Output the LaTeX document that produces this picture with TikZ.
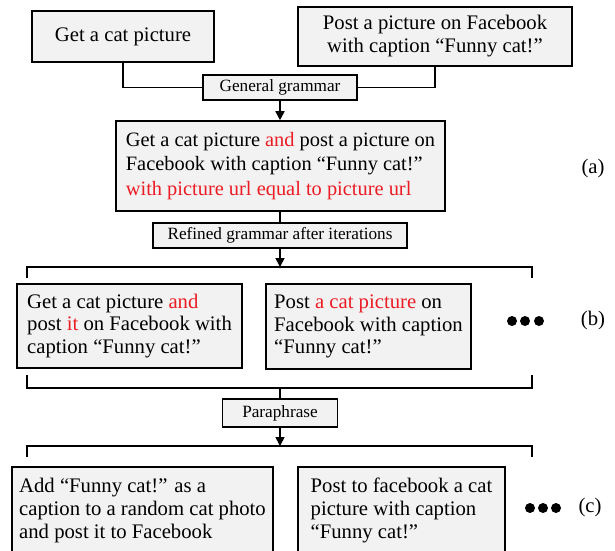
\documentclass[tikz,border=0pt]{standalone}
\usepackage{fontspec}
\setmainfont{Liberation Serif}
\usepackage{xcolor}
\usetikzlibrary{arrows.meta}
\usetikzlibrary{positioning}
\definecolor{boxgray}{RGB}{242,242,242}
\definecolor{hlred}{RGB}{235,28,36}
\newcommand{\hl}[1]{\textcolor{hlred}{#1}}

\begin{document}
\begin{tikzpicture}[x=1pt,y=-1pt,
    sentence/.style={draw, fill=boxgray, line width=1.6pt, align=left, inner sep=0pt,
        font=\fontsize{20.7}{23}\selectfont},
    rulebox/.style={draw, fill=boxgray, line width=1.6pt, inner sep=0pt,
        font=\fontsize{17.2}{20}\selectfont},
    link/.style={line width=1.6pt},
    flow/.style={line width=1.6pt, -{Triangle[length=9pt,width=9pt]}},
    tag/.style={font=\fontsize{20.7}{24}\selectfont}]
    \useasboundingbox (0,0) rectangle (615,550);
    \def\bl{27}  % bracket left
    \def\br{532} % bracket right
    \def\mx{280} % middle axis
    % input sentences
    \node[sentence, minimum width=182pt, minimum height=51pt] (get) at (123,36.5) {Get a cat picture};
    \node[sentence, align=center, minimum width=274pt, minimum height=59pt] (post) at (435,36.5)
        {Post a picture on Facebook\\with caption “Funny cat!”};
    \node[rulebox, minimum width=154pt, minimum height=25pt] (gg) at (\mx,87.5) {General grammar};
    \draw[link] (get.south) -- (get.south |- gg.west) -- (gg.west);
    \draw[link] (post.south) -- (post.south |- gg.east) -- (gg.east);
    % (a)
    \node[sentence, minimum width=329pt, minimum height=90pt, font=\fontsize{20.4}{24.5}\selectfont] (comb) at (280.5,166)
        {Get a cat picture \hl{and} post a picture on\\Facebook with caption “Funny cat!”\\\hl{with picture url equal to picture url}};
    \draw[flow] (gg.south) -- (gg.south |- comb.north);
    \node[tag] (lblA) at (593,169) {(a)};
    \node[rulebox, minimum width=254pt, minimum height=25pt] (ref) at (\mx,235.5) {Refined grammar after iterations};
    \draw[link] (ref.north |- comb.south) -- (ref.north);
    % (b)
    \coordinate (topB) at (\mx,267);
    \coordinate (botB) at (\mx,388);
    \draw[link] (\bl,278) -- (\bl,267) -- (\br,267) -- (\br,278);
    \draw[link] (\bl,375) -- (\bl,388) -- (\br,388) -- (\br,375);
    \draw[flow] (ref.south) -- (topB);
    \node[sentence, minimum width=225pt, minimum height=84pt, font=\fontsize{20.7}{22.2}\selectfont] (refA) at (129.5,326)
        {Get a cat picture \hl{and}\\post \hl{it} on Facebook with\\caption “Funny cat!”};
    \node[sentence, minimum width=205pt, minimum height=85pt, font=\fontsize{20.7}{22.2}\selectfont] (refB) at (368.5,326.5)
        {Post \hl{a cat picture} on\\Facebook with caption\\“Funny cat!”};
    \foreach \x in {512,525,539} \fill (\x,321) circle (5pt);
    \node[tag] (lblB) at (593,321) {(b)};
    % (c)
    \node[rulebox, minimum width=115pt, minimum height=28pt] (para) at (\mx,413) {Paraphrase};
    \coordinate (topC) at (\mx,446);
    \draw[link] (botB) -- (para.north);
    \draw[link] (\bl,457) -- (\bl,446) -- (\br,446) -- (\br,457);
    \draw[flow] (para.south) -- (topC);
    \node[sentence, minimum width=261pt, minimum height=87pt] (paraA) at (142.5,510.5)
        {Add “Funny cat!” as a\\caption to a random cat photo\\and post it to Facebook};
    \node[sentence, minimum width=207pt, minimum height=87pt] (paraB) at (401.5,510.5)
        {Post to facebook a cat\\picture with caption\\“Funny cat!”};
    \foreach \x in {530,543,556} \fill (\x,508) circle (5pt);
    \node[tag] (lblC) at (590,508) {(c)};
\end{tikzpicture}
\end{document}
